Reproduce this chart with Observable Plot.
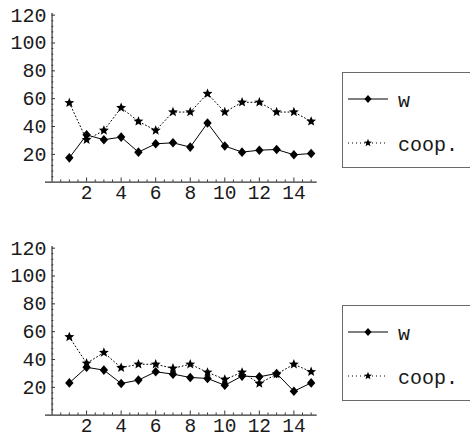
<!DOCTYPE html>
<html>
<head>
<meta charset="utf-8">
<script src="https://cdn.jsdelivr.net/npm/d3@7"></script>
<script src="https://cdn.jsdelivr.net/npm/@observablehq/plot@0.6"></script>
<style>
  html, body { margin: 0; padding: 0; background: #fff; }
  #wrap { position: relative; width: 470px; height: 438px; overflow: hidden; background: #fff; }
  .panel { position: absolute; left: 0; }
  .legend { position: absolute; left: 342px; width: 140px; height: 96px; border: 1.5px solid #6a6a6a; box-sizing: border-box; }
  .legend svg { position: absolute; left: 0; top: 0; overflow: visible; }
</style>
</head>
<body>
<div id="wrap"></div>
<script>
// ---- data ----
const trial = [1, 2, 3, 4, 5, 6, 7, 8, 9, 10, 11, 12, 13, 14, 15];
const w1    = [17.5, 34, 30.5, 32.4, 21.6, 27.6, 28.3, 25.2, 42.5, 26, 21.6, 23, 23.5, 19.7, 20.6];
const coop1 = [57, 30.5, 37.2, 53.5, 43.7, 37.2, 50.4, 50.4, 63.6, 50.4, 57.4, 57.4, 50.4, 50.4, 43.7];
const w2    = [23.2, 34.4, 32.4, 22.8, 25.2, 31.2, 29.5, 27.1, 26.4, 21.5, 28.1, 27.6, 30, 17.2, 23.2];
const coop2 = [56.2, 37.3, 45, 34.1, 36.6, 36.6, 33.7, 36.6, 30.8, 25.7, 30.8, 22.8, 29.5, 36.6, 31.2];
const xTickLabels = [2, 4, 6, 8, 10, 12, 14];
const yTickLabels = [20, 40, 60, 80, 100, 120];
const seriesNames = ["w", "coop."];

const FONT = '"Liberation Mono", "Courier New", monospace';
const FS = 20;

// ---- symbols ----
function diamondPath(ctx, s) {
  const hw = 4.2 * s, hh = 4.8 * s;
  ctx.moveTo(0, -hh); ctx.lineTo(hw, 0); ctx.lineTo(0, hh); ctx.lineTo(-hw, 0); ctx.closePath();
}
function starPath(ctx, s) {
  const R = 5.2 * s, r = 2.3 * s;
  for (let i = 0; i < 10; i++) {
    const a = -Math.PI / 2 + i * Math.PI / 5;
    const rad = i % 2 === 0 ? R : r;
    const px = rad * Math.cos(a), py = rad * Math.sin(a);
    if (i === 0) ctx.moveTo(px, py); else ctx.lineTo(px, py);
  }
  ctx.closePath();
}
const diamondSym = { draw(ctx) { diamondPath(ctx, 1); } };
const starSym = { draw(ctx) { starPath(ctx, 1); } };

const X0 = -0.38, X1 = 15.35, YMAX = 121.2;
const xMinor = d3.range(0, 15.01, 0.5).filter(v => v % 2 !== 0);
const xMajor = d3.range(2, 15, 2);
const yMinor = d3.range(4, 121, 4).filter(v => v % 20 !== 0);
const yMajor = d3.range(20, 121, 20);

function panel(wVals, cVals) {
  const wData = trial.map((t, i) => ({ t, v: wVals[i] }));
  const cData = trial.map((t, i) => ({ t, v: cVals[i] }));
  return Plot.plot({
    width: 330, height: 205,
    marginLeft: 45, marginRight: 13.3, marginTop: 13, marginBottom: 23.3,
    x: { domain: [X0, X1], axis: null },
    y: { domain: [0, YMAX], axis: null },
    style: { fontFamily: FONT, fontSize: FS + "px", background: "transparent", overflow: "visible" },
    marks: [
      // axes
      Plot.ruleY([0], { x1: X0, x2: X1, stroke: "#333", strokeWidth: 1.2 }),
      Plot.ruleX([0], { y1: 0, y2: YMAX, stroke: "#333", strokeWidth: 1.2 }),
      Plot.ruleX(xMinor, { x: d => d, y1: 0, y2: 1.6, stroke: "#333", strokeWidth: 1 }),
      Plot.ruleX(xMajor, { x: d => d, y1: 0, y2: 3, stroke: "#333", strokeWidth: 1 }),
      Plot.ruleY(yMinor, { y: d => d, x1: 0, x2: 0.1, stroke: "#333", strokeWidth: 1 }),
      Plot.ruleY(yMajor, { y: d => d, x1: 0, x2: 0.2, stroke: "#333", strokeWidth: 1 }),
      Plot.text(xTickLabels, { x: d => d, y: 0, dy: 11, text: d => String(d), fill: "#1a1a1a", fontSize: 19.5, lineAnchor: "middle", textAnchor: "middle" }),
      Plot.text(yTickLabels, { x: 0, y: d => d, dx: -5.5, text: d => String(d), fill: "#1a1a1a", fontSize: FS, lineAnchor: "middle", textAnchor: "end" }),
      // series
      Plot.line(cData, { x: "t", y: "v", stroke: "#000", strokeWidth: 1, strokeDasharray: "1,2.6" }),
      Plot.line(wData, { x: "t", y: "v", stroke: "#000", strokeWidth: 1 }),
      Plot.dot(wData, { x: "t", y: "v", symbol: diamondSym, fill: "#000", stroke: "none" }),
      Plot.dot(cData, { x: "t", y: "v", symbol: starSym, fill: "#000", stroke: "none" })
    ]
  });
}

function legend(top) {
  const div = document.createElement("div");
  div.className = "legend";
  div.style.top = top + "px";
  const svg = d3.create("svg").attr("width", 140).attr("height", 96);
  const rowY = [26, 70];
  const lx1 = 5, lx2 = 45, mx = 25;
  svg.append("line").attr("x1", lx1).attr("x2", lx2).attr("y1", rowY[0]).attr("y2", rowY[0]).attr("stroke", "#000").attr("stroke-width", 1);
  const dp = d3.path(); diamondPath(dp, 0.85);
  svg.append("path").attr("d", dp.toString()).attr("transform", `translate(${mx},${rowY[0]})`).attr("fill", "#000");
  svg.append("line").attr("x1", lx1).attr("x2", lx2).attr("y1", rowY[1]).attr("y2", rowY[1]).attr("stroke", "#000").attr("stroke-width", 1).attr("stroke-dasharray", "1,3");
  const sp = d3.path(); starPath(sp, 0.8);
  svg.append("path").attr("d", sp.toString()).attr("transform", `translate(${mx},${rowY[1]})`).attr("fill", "#000");
  seriesNames.forEach((name, i) => {
    svg.append("text").attr("x", 55).attr("y", rowY[i] + 2).attr("dy", "0.32em")
      .attr("font-family", FONT).attr("font-size", FS)
      .attr("fill", "#1a1a1a").text(name);
  });
  div.appendChild(svg.node());
  return div;
}

const wrap = document.getElementById("wrap");
const p1 = panel(w1, coop1); p1.classList.add("panel"); p1.style.top = "0px";
const p2 = panel(w2, coop2); p2.classList.add("panel"); p2.style.top = "233px";
wrap.appendChild(p1);
wrap.appendChild(p2);
wrap.appendChild(legend(72));
wrap.appendChild(legend(305));
</script>
</body>
</html>
